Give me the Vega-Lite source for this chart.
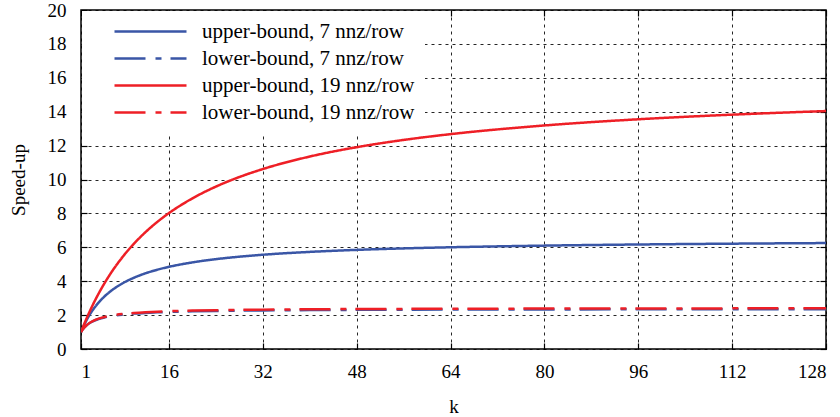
{
  "$schema": "https://vega.github.io/schema/vega-lite/v6.json",
  "width": 745,
  "height": 339,
  "autosize": {"type": "none"},
  "padding": {"left": 81, "top": 10, "right": 14, "bottom": 68},
  "background": "white",
  "datasets": {
    "curves": [
      {"k": 1, "s": "upper-bound, 7 nnz/row", "v": 1},
      {"k": 1.25, "s": "upper-bound, 7 nnz/row", "v": 1.204},
      {"k": 1.5, "s": "upper-bound, 7 nnz/row", "v": 1.393},
      {"k": 2, "s": "upper-bound, 7 nnz/row", "v": 1.734},
      {"k": 2.5, "s": "upper-bound, 7 nnz/row", "v": 2.032},
      {"k": 3, "s": "upper-bound, 7 nnz/row", "v": 2.296},
      {"k": 4, "s": "upper-bound, 7 nnz/row", "v": 2.739},
      {"k": 5, "s": "upper-bound, 7 nnz/row", "v": 3.099},
      {"k": 6, "s": "upper-bound, 7 nnz/row", "v": 3.396},
      {"k": 8, "s": "upper-bound, 7 nnz/row", "v": 3.858},
      {"k": 10, "s": "upper-bound, 7 nnz/row", "v": 4.201},
      {"k": 12, "s": "upper-bound, 7 nnz/row", "v": 4.466},
      {"k": 14, "s": "upper-bound, 7 nnz/row", "v": 4.676},
      {"k": 16, "s": "upper-bound, 7 nnz/row", "v": 4.848},
      {"k": 20, "s": "upper-bound, 7 nnz/row", "v": 5.110},
      {"k": 24, "s": "upper-bound, 7 nnz/row", "v": 5.301},
      {"k": 28, "s": "upper-bound, 7 nnz/row", "v": 5.446},
      {"k": 32, "s": "upper-bound, 7 nnz/row", "v": 5.561},
      {"k": 40, "s": "upper-bound, 7 nnz/row", "v": 5.729},
      {"k": 48, "s": "upper-bound, 7 nnz/row", "v": 5.848},
      {"k": 56, "s": "upper-bound, 7 nnz/row", "v": 5.935},
      {"k": 64, "s": "upper-bound, 7 nnz/row", "v": 6.002},
      {"k": 80, "s": "upper-bound, 7 nnz/row", "v": 6.099},
      {"k": 96, "s": "upper-bound, 7 nnz/row", "v": 6.166},
      {"k": 112, "s": "upper-bound, 7 nnz/row", "v": 6.214},
      {"k": 128, "s": "upper-bound, 7 nnz/row", "v": 6.250},

      {"k": 1, "s": "lower-bound, 7 nnz/row", "v": 1},
      {"k": 1.25, "s": "lower-bound, 7 nnz/row", "v": 1.131},
      {"k": 1.5, "s": "lower-bound, 7 nnz/row", "v": 1.239},
      {"k": 2, "s": "lower-bound, 7 nnz/row", "v": 1.407},
      {"k": 2.5, "s": "lower-bound, 7 nnz/row", "v": 1.532},
      {"k": 3, "s": "lower-bound, 7 nnz/row", "v": 1.629},
      {"k": 4, "s": "lower-bound, 7 nnz/row", "v": 1.767},
      {"k": 5, "s": "lower-bound, 7 nnz/row", "v": 1.863},
      {"k": 6, "s": "lower-bound, 7 nnz/row", "v": 1.932},
      {"k": 8, "s": "lower-bound, 7 nnz/row", "v": 2.027},
      {"k": 10, "s": "lower-bound, 7 nnz/row", "v": 2.088},
      {"k": 12, "s": "lower-bound, 7 nnz/row", "v": 2.131},
      {"k": 14, "s": "lower-bound, 7 nnz/row", "v": 2.163},
      {"k": 16, "s": "lower-bound, 7 nnz/row", "v": 2.187},
      {"k": 20, "s": "lower-bound, 7 nnz/row", "v": 2.222},
      {"k": 24, "s": "lower-bound, 7 nnz/row", "v": 2.246},
      {"k": 28, "s": "lower-bound, 7 nnz/row", "v": 2.264},
      {"k": 32, "s": "lower-bound, 7 nnz/row", "v": 2.277},
      {"k": 40, "s": "lower-bound, 7 nnz/row", "v": 2.296},
      {"k": 48, "s": "lower-bound, 7 nnz/row", "v": 2.309},
      {"k": 56, "s": "lower-bound, 7 nnz/row", "v": 2.318},
      {"k": 64, "s": "lower-bound, 7 nnz/row", "v": 2.325},
      {"k": 80, "s": "lower-bound, 7 nnz/row", "v": 2.335},
      {"k": 96, "s": "lower-bound, 7 nnz/row", "v": 2.341},
      {"k": 112, "s": "lower-bound, 7 nnz/row", "v": 2.346},
      {"k": 128, "s": "lower-bound, 7 nnz/row", "v": 2.350},

      {"k": 1, "s": "upper-bound, 19 nnz/row", "v": 1},
      {"k": 1.25, "s": "upper-bound, 19 nnz/row", "v": 1.220},
      {"k": 1.5, "s": "upper-bound, 19 nnz/row", "v": 1.434},
      {"k": 2, "s": "upper-bound, 19 nnz/row", "v": 1.843},
      {"k": 2.5, "s": "upper-bound, 19 nnz/row", "v": 2.229},
      {"k": 3, "s": "upper-bound, 19 nnz/row", "v": 2.594},
      {"k": 4, "s": "upper-bound, 19 nnz/row", "v": 3.268},
      {"k": 5, "s": "upper-bound, 19 nnz/row", "v": 3.877},
      {"k": 6, "s": "upper-bound, 19 nnz/row", "v": 4.429},
      {"k": 8, "s": "upper-bound, 19 nnz/row", "v": 5.391},
      {"k": 10, "s": "upper-bound, 19 nnz/row", "v": 6.203},
      {"k": 12, "s": "upper-bound, 19 nnz/row", "v": 6.896},
      {"k": 14, "s": "upper-bound, 19 nnz/row", "v": 7.496},
      {"k": 16, "s": "upper-bound, 19 nnz/row", "v": 8.019},
      {"k": 20, "s": "upper-bound, 19 nnz/row", "v": 8.888},
      {"k": 24, "s": "upper-bound, 19 nnz/row", "v": 9.581},
      {"k": 28, "s": "upper-bound, 19 nnz/row", "v": 10.147},
      {"k": 32, "s": "upper-bound, 19 nnz/row", "v": 10.617},
      {"k": 40, "s": "upper-bound, 19 nnz/row", "v": 11.355},
      {"k": 48, "s": "upper-bound, 19 nnz/row", "v": 11.906},
      {"k": 56, "s": "upper-bound, 19 nnz/row", "v": 12.334},
      {"k": 64, "s": "upper-bound, 19 nnz/row", "v": 12.676},
      {"k": 80, "s": "upper-bound, 19 nnz/row", "v": 13.188},
      {"k": 96, "s": "upper-bound, 19 nnz/row", "v": 13.553},
      {"k": 112, "s": "upper-bound, 19 nnz/row", "v": 13.826},
      {"k": 128, "s": "upper-bound, 19 nnz/row", "v": 14.038},

      {"k": 1, "s": "lower-bound, 19 nnz/row", "v": 1},
      {"k": 1.25, "s": "lower-bound, 19 nnz/row", "v": 1.133},
      {"k": 1.5, "s": "lower-bound, 19 nnz/row", "v": 1.244},
      {"k": 2, "s": "lower-bound, 19 nnz/row", "v": 1.416},
      {"k": 2.5, "s": "lower-bound, 19 nnz/row", "v": 1.545},
      {"k": 3, "s": "lower-bound, 19 nnz/row", "v": 1.645},
      {"k": 4, "s": "lower-bound, 19 nnz/row", "v": 1.789},
      {"k": 5, "s": "lower-bound, 19 nnz/row", "v": 1.888},
      {"k": 6, "s": "lower-bound, 19 nnz/row", "v": 1.961},
      {"k": 8, "s": "lower-bound, 19 nnz/row", "v": 2.060},
      {"k": 10, "s": "lower-bound, 19 nnz/row", "v": 2.124},
      {"k": 12, "s": "lower-bound, 19 nnz/row", "v": 2.169},
      {"k": 14, "s": "lower-bound, 19 nnz/row", "v": 2.202},
      {"k": 16, "s": "lower-bound, 19 nnz/row", "v": 2.228},
      {"k": 20, "s": "lower-bound, 19 nnz/row", "v": 2.265},
      {"k": 24, "s": "lower-bound, 19 nnz/row", "v": 2.291},
      {"k": 28, "s": "lower-bound, 19 nnz/row", "v": 2.309},
      {"k": 32, "s": "lower-bound, 19 nnz/row", "v": 2.323},
      {"k": 40, "s": "lower-bound, 19 nnz/row", "v": 2.343},
      {"k": 48, "s": "lower-bound, 19 nnz/row", "v": 2.357},
      {"k": 56, "s": "lower-bound, 19 nnz/row", "v": 2.367},
      {"k": 64, "s": "lower-bound, 19 nnz/row", "v": 2.374},
      {"k": 80, "s": "lower-bound, 19 nnz/row", "v": 2.385},
      {"k": 96, "s": "lower-bound, 19 nnz/row", "v": 2.391},
      {"k": 112, "s": "lower-bound, 19 nnz/row", "v": 2.397},
      {"k": 128, "s": "lower-bound, 19 nnz/row", "v": 2.400}
    ]
  },
  "data": {"name": "curves"},
  "layer": [
    {
      "layer": [
        {
          "transform": [{"filter": "indexof(datum.s, ' 7 ') >= 0"}],
          "mark": {"type": "line", "strokeWidth": 2.5, "interpolate": "monotone", "clip": true}
        },
        {
          "transform": [{"filter": "indexof(datum.s, ' 19 ') >= 0"}],
          "mark": {"type": "line", "strokeWidth": 2.5, "interpolate": "monotone", "clip": true}
        }
      ],
      "encoding": {
        "x": {
          "field": "k", "type": "quantitative",
          "scale": {"domain": [1, 128], "nice": false, "zero": false},
          "axis": {
            "values": [1, 16, 32, 48, 64, 80, 96, 112, 128],
            "title": "k", "grid": true, "tickSize": -6, "labelPadding": 19,
            "titlePadding": 16
          }
        },
        "y": {
          "field": "v", "type": "quantitative",
          "scale": {"domain": [0, 20], "nice": false},
          "axis": {
            "values": [0, 2, 4, 6, 8, 10, 12, 14, 16, 18, 20],
            "title": "Speed-up", "grid": true, "tickSize": -6, "labelPadding": 21,
            "titlePadding": 19
          }
        },
        "color": {
          "field": "s", "type": "nominal",
          "scale": {
            "domain": ["upper-bound, 7 nnz/row", "lower-bound, 7 nnz/row", "upper-bound, 19 nnz/row", "lower-bound, 19 nnz/row"],
            "range": ["#3a56a6", "#3a56a6", "#ee1f26", "#ee1f26"]
          },
          "legend": {
            "orient": "none", "legendX": 1, "legendY": 1, "title": null,
            "fillColor": "white", "padding": 10,
            "symbolType": "M-4,0H4", "symbolSize": 324, "symbolStrokeWidth": 2.5,
            "symbolOffset": 48, "labelOffset": 41, "rowPadding": 5,
            "labelFontSize": 21, "labelFont": "Liberation Serif", "labelColor": "black", "labelLimit": 400
          }
        },
        "strokeDash": {
          "field": "s", "type": "nominal",
          "scale": {
            "domain": ["upper-bound, 7 nnz/row", "lower-bound, 7 nnz/row", "upper-bound, 19 nnz/row", "lower-bound, 19 nnz/row"],
            "range": [[1, 0], [31, 10, 6, 9], [1, 0], [31, 10, 6, 9]]
          },
          "legend": null
        }
      }
    },
    {
      "mark": {"type": "point", "opacity": 0},
      "encoding": {
        "x": {
          "field": "k", "type": "quantitative",
          "axis": {
            "orient": "top", "values": [1, 16, 32, 48, 64, 80, 96, 112, 128],
            "labels": false, "title": null, "grid": false, "tickSize": -6, "domain": false
          }
        },
        "y": {
          "field": "v", "type": "quantitative",
          "axis": {
            "orient": "right", "values": [0, 2, 4, 6, 8, 10, 12, 14, 16, 18, 20],
            "labels": false, "title": null, "grid": false, "tickSize": -6, "domain": false
          }
        }
      }
    }
  ],
  "resolve": {"axis": {"x": "independent", "y": "independent"}},
  "config": {
    "font": "Liberation Serif",
    "view": {"stroke": "black", "strokeWidth": 1.5},
    "axis": {
      "domain": false,
      "gridColor": "black", "gridDash": [3, 4], "gridWidth": 1, "gridOpacity": 0.85,
      "tickColor": "black", "tickWidth": 1.2,
      "labelFont": "Liberation Serif", "labelFontSize": 19, "labelColor": "black",
      "titleFont": "Liberation Serif", "titleFontSize": 19, "titleFontWeight": "normal", "titleColor": "black"
    }
  }
}
